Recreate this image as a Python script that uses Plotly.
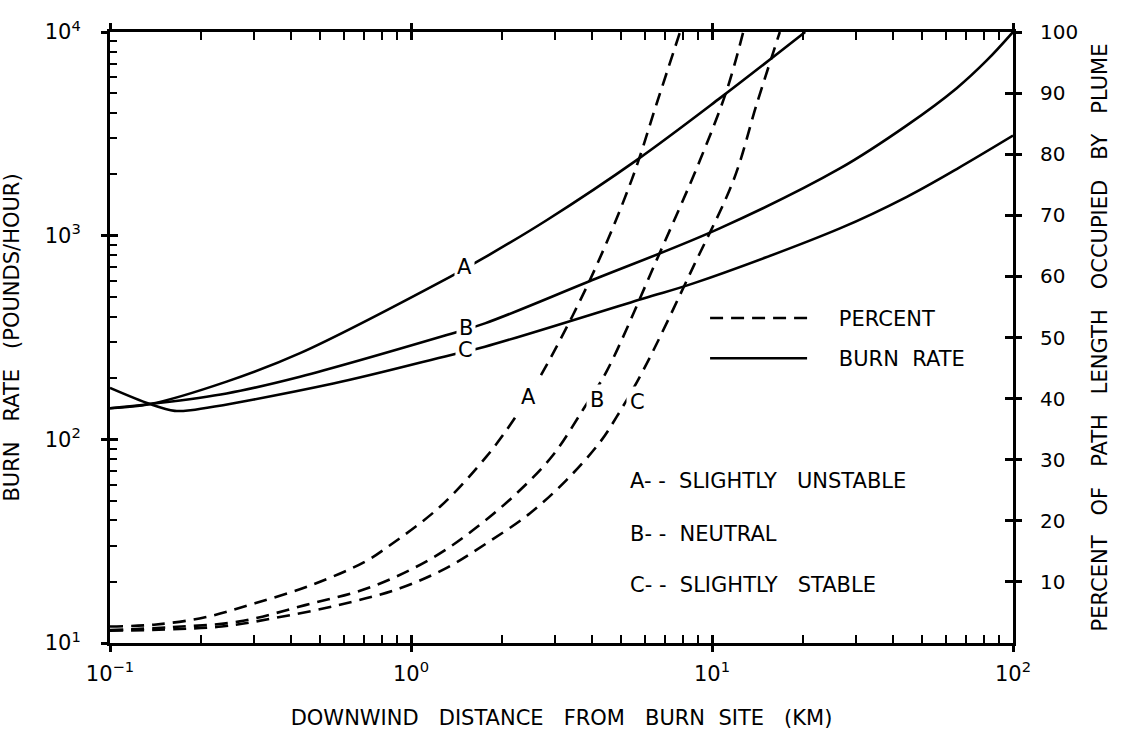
import math
import plotly.graph_objects as go

# ---------------- data ----------------
# Burn rate (pounds/hour), left log axis
dist_rate_a = [0.1, 0.136, 0.244, 0.428, 1.348, 1.74, 2.83, 5.62, 10.6, 20.4]
rate_a = [142, 149, 192, 265, 628, 775, 1194, 2350, 4720, 10000]

dist_rate_b = [0.1, 0.136, 0.244, 0.428, 1.314, 1.76, 3.88, 10.6, 26.6, 44.4, 65, 81.8, 100]
rate_b = [142, 149, 168, 203, 325, 371, 594, 1086, 2138, 3480, 5300, 7250, 10000]

dist_rate_c = [0.1, 0.136, 0.164, 0.185, 0.552, 1.348, 1.76, 5.92, 8.67, 26.6, 44.4, 65, 100]
rate_c = [179, 149, 138, 139, 188, 259, 285, 492, 583, 1086, 1552, 2124, 3100]

# Percent of path length occupied by plume, right linear axis
dist_pct_a = [0.1, 0.14, 0.207, 0.303, 0.468, 0.703, 0.841, 1.248, 1.78, 2.19, 2.68, 3.93, 5.41, 6.55, 7.83]
pct_a = [2.7, 3.0, 4.2, 6.5, 9.5, 13.3, 15.8, 22.3, 30.5, 36.5, 43.5, 59.4, 75.8, 88.3, 100]

dist_pct_b = [0.1, 0.16, 0.267, 0.445, 0.74, 1.186, 1.69, 2.30, 2.97, 3.74, 4.47, 6.55, 9.12, 11.2, 12.7]
pct_b = [2.1, 2.6, 3.5, 6.2, 9.2, 14.0, 19.3, 25.0, 30.8, 38.3, 44.5, 62.7, 79.0, 90.5, 100]

dist_pct_c = [0.1, 0.235, 0.344, 0.574, 0.919, 1.314, 1.78, 2.48, 3.29, 4.25, 4.82, 5.92, 8.67, 11.8, 14.1, 16.8]
pct_c = [2.0, 2.7, 4.0, 6.2, 8.95, 12.3, 16.3, 21.2, 26.7, 32.9, 37.0, 44.7, 61.6, 75.8, 88.3, 100]

# ticks
x_major = [0.1, 1, 10, 100]
x_major_text = ["10<sup>−1</sup>", "10<sup>0</sup>", "10<sup>1</sup>", "10<sup>2</sup>"]
x_minor = [m * d for d in (0.1, 1, 10) for m in range(2, 10)]
y_major = [10, 100, 1000, 10000]
y_major_text = ["10<sup>1</sup>", "10<sup>2</sup>", "10<sup>3</sup>", "10<sup>4</sup>"]
y_minor = [m * d for d in (10, 100, 1000) for m in range(2, 10)]
pct_ticks = [10, 20, 30, 40, 50, 60, 70, 80, 90, 100]

NB = "\u00a0"
stability_notes = ["A-" + NB + "-" + NB + " SLIGHTLY" + NB * 2 + " UNSTABLE",
                   "B-" + NB + "-" + NB + " NEUTRAL",
                   "C-" + NB + "-" + NB + " SLIGHTLY" + NB * 2 + " STABLE"]

FONT = "DejaVu Sans"
BLACK = "black"
LW = 2.6
DASH = "13px,8px"
TXT = 21

fig = go.Figure()

# percent curves (dashed, right axis)
for i, (xs, ys) in enumerate([(dist_pct_a, pct_a), (dist_pct_b, pct_b), (dist_pct_c, pct_c)]):
    fig.add_trace(go.Scatter(
        x=xs, y=ys, yaxis="y2", mode="lines",
        line=dict(color=BLACK, width=LW, dash=DASH, shape="spline", smoothing=1.0),
        name=NB * 4 + "PERCENT", legendgroup="pct", showlegend=(i == 0), hoverinfo="skip"))

# burn-rate curves (solid, left axis)
for i, (xs, ys) in enumerate([(dist_rate_a, rate_a), (dist_rate_b, rate_b), (dist_rate_c, rate_c)]):
    fig.add_trace(go.Scatter(
        x=xs, y=ys, mode="lines",
        line=dict(color=BLACK, width=LW, shape="spline", smoothing=1.0),
        name=NB * 4 + "BURN" + NB + " RATE", legendgroup="rate", showlegend=(i == 0),
        hoverinfo="skip"))

# empty traces so the overlay tick axes get drawn
fig.add_trace(go.Scatter(x=[None], y=[None], xaxis="x2", yaxis="y", showlegend=False, hoverinfo="skip"))
fig.add_trace(go.Scatter(x=[None], y=[None], xaxis="x", yaxis="y3", showlegend=False, hoverinfo="skip"))
fig.add_trace(go.Scatter(x=[None], y=[None], xaxis="x", yaxis="y4", showlegend=False, hoverinfo="skip"))

annotations = []
# solid-curve labels
for txt, xv, yv in [("A", 1.50, 700), ("B", 1.52, 352), ("C", 1.52, 274)]:
    annotations.append(dict(x=math.log10(xv), y=math.log10(yv),
                            xref="x", yref="y", text=txt, showarrow=False,
                            font=dict(family=FONT, size=TXT, color=BLACK),
                            bgcolor="white", borderpad=2))
# dashed-curve labels
for txt, xv, yv in [("A", 2.45, 40.3), ("B", 4.15, 39.8), ("C", 5.64, 39.4)]:
    annotations.append(dict(x=math.log10(xv), y=yv,
                            xref="x", yref="y2", text=txt, showarrow=False,
                            font=dict(family=FONT, size=TXT, color=BLACK),
                            bgcolor="white", borderpad=3))
# stability legend notes
for txt, yp in zip(stability_notes, [0.265, 0.178, 0.095]):
    annotations.append(dict(x=0.5737, y=yp, xref="paper", yref="paper", text=txt,
                            showarrow=False, xanchor="left", yanchor="middle",
                            font=dict(family=FONT, size=TXT, color=BLACK)))

common = dict(showgrid=False, zeroline=False, tickcolor=BLACK, tickwidth=2.5,
              ticklen=8, automargin=False)

fig.update_layout(
    width=1124, height=735,
    paper_bgcolor="white", plot_bgcolor="white",
    font=dict(family=FONT, color=BLACK, size=TXT),
    margin=dict(l=110, r=111, t=32, b=92),
    # main bottom axis: labels + inside ticks (major and minor), mirrored on top
    xaxis=dict(type="log", range=[-1, 2], showline=True, linewidth=3, linecolor=BLACK,
               mirror="ticks", ticks="inside", tickvals=x_major, ticktext=x_major_text,
               tickfont=dict(size=21), ticklabelstandoff=10,
               minor=dict(tickvals=x_minor, ticks="inside", ticklen=8, tickwidth=2,
                          tickcolor=BLACK, showgrid=False),
               title=dict(text=("DOWNWIND" + NB * 2 + " DISTANCE" + NB * 2 + " FROM" + NB * 2 +
                                " BURN" + NB + " SITE" + NB * 2 + " (KM)"),
                          font=dict(size=TXT), standoff=26),
               **common),
    # overlay axis: outward half of the major ticks (makes crossing ticks)
    xaxis2=dict(type="log", range=[-1, 2], overlaying="x", anchor="y", side="bottom",
                ticks="outside", tickvals=x_major, showticklabels=False, mirror="ticks",
                showline=False, **common),
    yaxis=dict(type="log", range=[1, 4], showline=True, linewidth=3, linecolor=BLACK,
               ticks="inside", tickvals=y_major, ticktext=y_major_text, anchor="x",
               tickfont=dict(size=21), ticklabelstandoff=22,
               minor=dict(tickvals=y_minor, ticks="inside", ticklen=7, tickwidth=2,
                          tickcolor=BLACK, showgrid=False),
               title=dict(text="BURN" + NB * 2 + " RATE" + NB * 2 + " (POUNDS/HOUR)",
                          font=dict(size=TXT), standoff=22),
               **common),
    yaxis3=dict(type="log", range=[1, 4], overlaying="y", anchor="x", side="left",
                ticks="outside", tickvals=y_major, showticklabels=False, showline=False,
                **common),
    yaxis2=dict(range=[0, 100], overlaying="y", anchor="x", side="right",
                showline=True, linewidth=3, linecolor=BLACK,
                ticks="inside", tickvals=pct_ticks, tickfont=dict(size=20),
                ticklabelstandoff=20,
                title=dict(text=("PERCENT" + NB * 2 + " OF" + NB * 2 + " PATH" + NB * 2 +
                                 " LENGTH" + NB * 2 + " OCCUPIED" + NB * 2 + " BY" + NB * 2 +
                                 " PLUME"),
                           font=dict(size=TXT), standoff=16),
                **common),
    yaxis4=dict(range=[0, 100], overlaying="y", anchor="x", side="right",
                ticks="outside", tickvals=pct_ticks, showticklabels=False, showline=False,
                **common),
    legend=dict(x=0.659, y=0.565, xanchor="left", yanchor="top",
                bgcolor="rgba(0,0,0,0)", font=dict(size=TXT, family=FONT),
                itemwidth=97, tracegroupgap=10, traceorder="grouped"),
    annotations=annotations,
    showlegend=True,
)

fig.write_html("out.html", config={"displayModeBar": False},
               post_script="document.body.style.margin='0px';")
